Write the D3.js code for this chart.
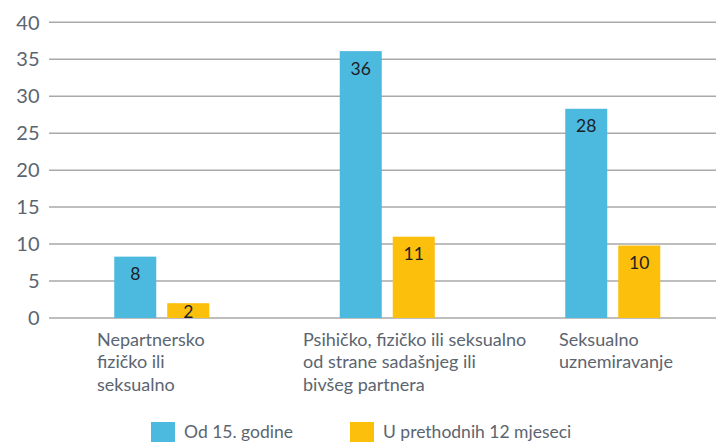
<!DOCTYPE html>
<html>
<head>
<meta charset="utf-8">
<script src="https://cdn.jsdelivr.net/npm/d3@7"></script>
<style>
  body { margin: 0; background: #fff; }
  svg { display: block; font-family: Lato, "Open Sans", sans-serif; }
</style>
</head>
<body>
<div id="vis"></div>
<script>
// Data
const categories = ['Nepartnersko', 'Partner', 'Seksualno']
const categoryLines = [
  ['Nepartnersko', 'fizičko ili', 'seksualno'],
  ['Psihičko, fizičko ili seksualno', 'od strane sadašnjeg ili', 'bivšeg partnera'],
  ['Seksualno', 'uznemiravanje']
]
const seriesNames = ['Od 15. godine', 'U prethodnih 12 mjeseci']
const since15 = [8.3, 36.1, 28.3]
const last12 = [2.0, 11.0, 9.8]
const yTicks = [0, 5, 10, 15, 20, 25, 30, 35, 40]

const colors = ['#4cb9df', '#fcbf0b']
const textGray = '#5b6570'

const width = 716
const height = 442
const margin = { left: 49, top: 22.3, bottom: 318 }

const svg = d3.select('#vis')
  .append('svg')
  .attr('width', width)
  .attr('height', height)

// scales
const x = d3.scaleBand()
  .domain(categories)
  .range([margin.left, 725.5])

const xSub = d3.scaleBand()
  .domain(seriesNames)
  .range([0, 95])
  .paddingInner(11 / 53)

const y = d3.scaleLinear()
  .domain([0, 40])
  .range([margin.bottom, margin.top])

// grid lines
svg.append('g')
  .selectAll('line')
  .data(yTicks)
  .enter()
  .append('line')
  .attr('x1', margin.left)
  .attr('x2', width)
  .attr('y1', d => y(d))
  .attr('y2', d => y(d))
  .attr('stroke', '#a9a9a9')
  .attr('stroke-width', 1.5)

// y tick labels
svg.append('g')
  .selectAll('text')
  .data(yTicks)
  .enter()
  .append('text')
  .attr('x', 39.5)
  .attr('y', d => y(d))
  .attr('dy', '0.36em')
  .attr('text-anchor', 'end')
  .attr('font-size', 20)
  .attr('fill', textGray)
  .text(d => d)

// bars
const rows = categories.map((c, i) => ({
  cat: c,
  values: [
    { name: seriesNames[0], value: since15[i], color: colors[0] },
    { name: seriesNames[1], value: last12[i], color: colors[1] }
  ]
}))

const groups = svg.append('g')
  .selectAll('g')
  .data(rows)
  .enter()
  .append('g')
  .attr('transform', d => `translate(${x(d.cat) + x.bandwidth() / 2 - 47.5},0)`)

groups.selectAll('rect')
  .data(d => d.values)
  .enter()
  .append('rect')
  .attr('x', d => xSub(d.name))
  .attr('y', d => y(d.value))
  .attr('width', xSub.bandwidth())
  .attr('height', d => y(0) - y(d.value))
  .attr('fill', d => d.color)

// value labels
groups.selectAll('text')
  .data(d => d.values)
  .enter()
  .append('text')
  .attr('x', d => xSub(d.name) + xSub.bandwidth() / 2)
  .attr('y', d => Math.min(y(d.value) + 23.5, y(0)))
  .attr('text-anchor', 'middle')
  .attr('font-size', 17.5)
  .attr('fill', '#1d2126')
  .text(d => d3.format('.0f')(d.value))

// category labels (left aligned blocks)
const labelShift = [48, 28.5, 59]
const catLabels = svg.append('g')
  .selectAll('text')
  .data(categories)
  .enter()
  .append('text')
  .attr('x', (d, i) => x(d) + labelShift[i])
  .attr('y', 345.5)
  .attr('font-size', 18)
  .attr('fill', textGray)

catLabels.selectAll('tspan')
  .data((d, i) => categoryLines[i])
  .enter()
  .append('tspan')
  .attr('x', function () { return d3.select(this.parentNode).attr('x') })
  .attr('dy', (d, i) => i === 0 ? 0 : 22.5)
  .text(d => d)

// legend
const legendX = [151, 350]
const legend = svg.append('g')
  .selectAll('g')
  .data(seriesNames)
  .enter()
  .append('g')
  .attr('transform', (d, i) => `translate(${legendX[i]},422)`)

legend.append('rect')
  .attr('width', 24)
  .attr('height', 24)
  .attr('fill', (d, i) => colors[i])

legend.append('text')
  .attr('x', 33)
  .attr('y', 15.5)
  .attr('font-size', 17.5)
  .attr('fill', textGray)
  .text(d => d)
</script>
</body>
</html>
